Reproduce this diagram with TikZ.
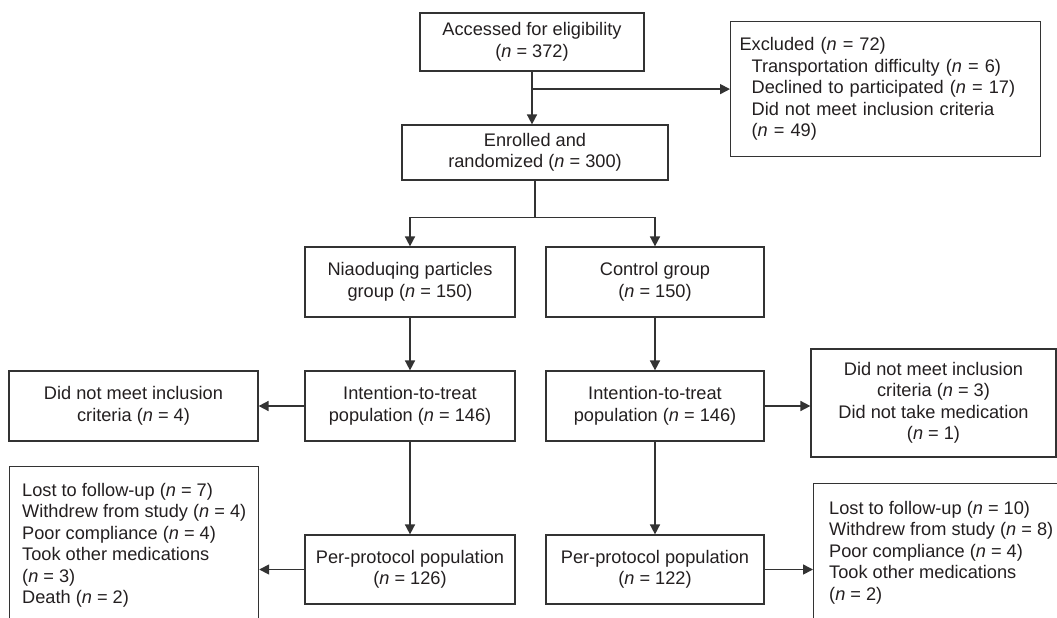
\documentclass[tikz,border=0pt]{standalone}
\usepackage{fontspec}
\setmainfont{Liberation Sans}
\usetikzlibrary{arrows.meta,calc}
\definecolor{linec}{HTML}{333333}
\definecolor{textc}{HTML}{231F20}
\begin{document}
\begin{tikzpicture}[x=1pt,y=-1pt,
  box/.style={draw=linec, line width=1.2pt, text=textc, align=center, inner sep=0pt,
              font=\fontsize{18.2}{21.5}\selectfont},
  frame/.style={draw=linec, line width=1.2pt, anchor=north west, inner sep=0pt},
  listtext/.style={text=textc, align=left, anchor=north west, inner sep=0pt,
              font=\fontsize{18.2}{21.5}\selectfont},
  conn/.style={draw=linec, line width=1.6pt},
  arr/.style={conn, -{Triangle[length=10pt,width=10pt]}},
]
\useasboundingbox (0,0) rectangle (1057,618);
\clip (0,0) rectangle (1057,618);

% main column
\node[box, minimum width=224, minimum height=58] (accessed) at (532,42)
  {Accessed for eligibility\\(\textit{n} = 372)};
\node[box, minimum width=266, minimum height=55] (enrolled) at (535,152.5)
  {Enrolled and\\randomized (\textit{n} = 300)};
\node[box, align=left, anchor=north west, text width=292, inner xsep=9pt, minimum height=135] (excluded) at (730,21)
  {Excluded (\textit{n} = 72)\\
   \hspace*{12pt}Transportation difficulty (\textit{n} = 6)\\
   \hspace*{12pt}Declined to participated (\textit{n} = 17)\\
   \hspace*{12pt}Did not meet inclusion criteria\\
   \hspace*{12pt}(\textit{n} = 49)};

% groups
\node[box, minimum width=210, minimum height=70] (niao) at (410,282)
  {Niaoduqing particles\\group (\textit{n} = 150)};
\node[box, minimum width=218, minimum height=70] (control) at (655,282)
  {Control group\\(\textit{n} = 150)};

% intention-to-treat
\node[box, minimum width=210, minimum height=70] (ittL) at (410,406)
  {Intention-to-treat\\population (\textit{n} = 146)};
\node[box, minimum width=218, minimum height=70] (ittR) at (655,406)
  {Intention-to-treat\\population (\textit{n} = 146)};
\node[box, minimum width=249, minimum height=70] (dnmL) at (133.5,406)
  {Did not meet inclusion\\criteria (\textit{n} = 4)};
\node[box, minimum width=245, minimum height=108] (dnmR) at (933.5,403)
  {Did not meet inclusion\\criteria (\textit{n} = 3)\\Did not take medication\\(\textit{n} = 1)};

% per-protocol
\node[box, minimum width=210, minimum height=69] (ppL) at (410,569.5)
  {Per-protocol population\\(\textit{n} = 126)};
\node[box, minimum width=218, minimum height=69] (ppR) at (655,569.5)
  {Per-protocol population\\(\textit{n} = 122)};

% withdrawals (boxes run past the lower edge)
\node[frame, minimum width=249, minimum height=200] (lostL) at (9,466) {};
\node[listtext] (lostLtext) at ($(lostL.north west)+(13,17)$)
  {Lost to follow-up (\textit{n} = 7)\\
   Withdrew from study (\textit{n} = 4)\\
   Poor compliance (\textit{n} = 4)\\
   Took other medications\\
   (\textit{n} = 3)\\
   Death (\textit{n} = 2)};
\node[frame, minimum width=280, minimum height=200] (lostR) at (813,483) {};
\node[listtext] (lostRtext) at ($(lostR.north west)+(16,18)$)
  {Lost to follow-up (\textit{n} = 10)\\
   Withdrew from study (\textit{n} = 8)\\
   Poor compliance (\textit{n} = 4)\\
   Took other medications\\
   (\textit{n} = 2)};

% connectors
\draw[arr] (accessed.south) -- (accessed.south |- enrolled.north);
\draw[arr] (accessed.south |- excluded.west) -- (excluded.west);
\draw[conn, line width=1.2pt] (enrolled.south) -- ++(0,37) coordinate (split);
\draw[arr] (split) -| (niao.north);
\draw[arr] (split) -| (control.north);
\draw[arr] (niao.south) -- (ittL.north);
\draw[arr] (control.south) -- (ittR.north);
\draw[arr] (ittL.west) -- (dnmL.east);
\draw[arr] (ittR.east) -- (ittR.east -| dnmR.west);
\draw[arr] (ittL.south) -- (ppL.north);
\draw[arr] (ittR.south) -- (ppR.north);
\draw[arr] (ppL.west) -- (ppL.west -| lostL.east);
\draw[arr] (ppR.east) -- (ppR.east -| lostR.west);
\end{tikzpicture}
\end{document}
